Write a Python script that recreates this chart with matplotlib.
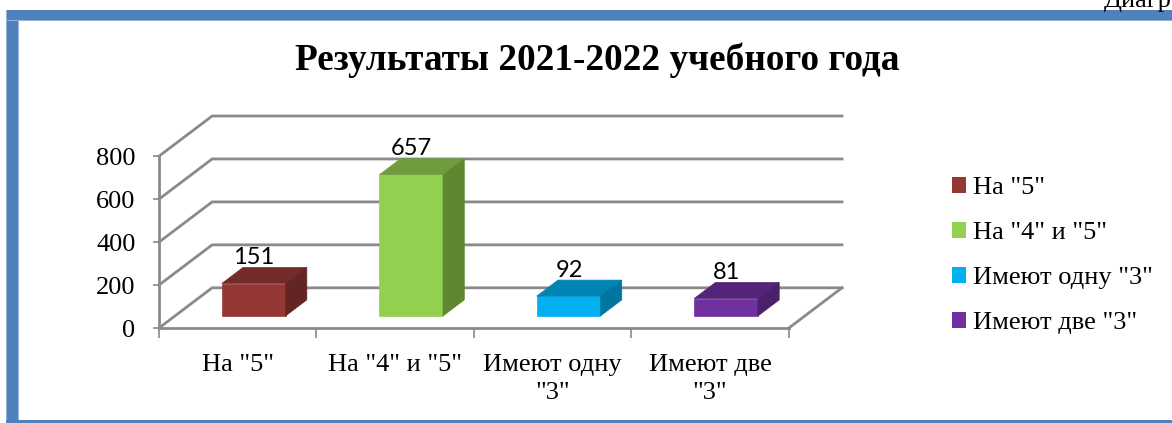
import matplotlib
matplotlib.use('Agg')
import matplotlib.pyplot as plt
from matplotlib.patches import Rectangle, Patch

plt.rcParams['font.family'] = ['Liberation Serif', 'DejaVu Serif']

# data
categories = ['На "5"', 'На "4" и "5"', 'Имеют одну\n"3"', 'Имеют две\n"3"']
legend_labels = ['На "5"', 'На "4" и "5"', 'Имеют одну "3"', 'Имеют две "3"']
values = [151, 657, 92, 81]
y_ticks = [0, 200, 400, 600, 800]

# front, top and side colours of each bar
front_colors = ['#953735', '#92D050', '#00B0F0', '#7030A0']
top_colors = ['#742C2A', '#6F9C3D', '#0084B4', '#542478']
side_colors = ['#632523', '#5F8730', '#00759F', '#4A206A']

W, H = 1172, 423
grid_color = '#8A8A8A'

# shift of the back wall in data units, this fakes the 3d look
depth_x = 53 / 157
depth_y = 40 / (171 / 800)


def project(x, y, d):
    return x + d * depth_x, y + d * depth_y


fig = plt.figure(figsize=(W / 100, H / 100), dpi=100, facecolor='white')

# blue frame round the chart
for px, py, pw, ph, col in [(6, 10, 13, 413, '#95B3D7'), (7, 10, 11, 413, '#4F81BD'),
                            (6, 10, 1166, 11, '#95B3D7'), (7, 10, 1165, 10, '#4F81BD'),
                            (6, 420, 1166, 3, '#4F81BD')]:
    fig.add_artist(Rectangle((px / W, 1 - (py + ph) / H), pw / W, ph / H,
                             transform=fig.transFigure, facecolor=col, edgecolor='none'))

fig.text(1104 / W, 1 - 7 / H, 'Диагр', fontsize=19, va='baseline', ha='left', color='black')
fig.text(597 / W, 1 - 60 / H, 'Результаты 2021-2022 учебного года', fontsize=26.8,
         fontweight='bold', ha='center', va='center')

ax = fig.add_axes([159 / W, 1 - 328 / H, (842 - 159) / W, (328 - 116) / H])
ax.set_xlim(0, 4 + depth_x)
ax.set_ylim(0, 800 + depth_y)
ax.patch.set_alpha(0)

for s in ['top', 'right']:
    ax.spines[s].set_visible(False)
for s in ['left', 'bottom']:
    ax.spines[s].set_color(grid_color)
    ax.spines[s].set_linewidth(2)
ax.spines['left'].set_bounds(0, 800)
ax.spines['bottom'].set_bounds(0, 4)

ax.set_yticks(y_ticks)
ax.set_xticks(range(5))
ax.set_xticklabels([])
ax.set_xticks([i + 0.5 for i in range(4)], minor=True)
ax.set_xticklabels(categories, minor=True, fontsize=19, linespacing=1.32)
ax.tick_params(axis='y', labelsize=19, length=4, width=1.2, color=grid_color, pad=13)
ax.tick_params(axis='x', which='major', length=7, width=1.2, color=grid_color)
ax.tick_params(axis='x', which='minor', length=0, pad=19)

# side wall and back wall gridlines
for v in y_ticks:
    bx, by = project(0, v, 1)
    ex, ey = project(4, v, 1)
    ax.plot([0, bx, ex], [v, by, ey], color=grid_color, lw=2, clip_on=False,
            solid_joinstyle='miter', zorder=1)
fx, fy = project(4, 0, 1)
ax.plot([4, fx], [0, fy], color=grid_color, lw=2, clip_on=False, zorder=1)

# bars, each one is three polygons
bar_w = 0.405
for i, v in enumerate(values):
    x0 = i + 0.5 - bar_w / 2
    x1 = i + 0.5 + bar_w / 2
    d0, d1 = 0.3, 0.7
    a = project(x0, 0, d0)
    b = project(x1, 0, d0)
    c = project(x1, v, d0)
    e = project(x0, v, d0)
    f = project(x0, v, d1)
    g = project(x1, v, d1)
    h = project(x1, 0, d1)
    ax.fill(*zip(a, b, c, e), color=front_colors[i], lw=0.5, zorder=3, clip_on=False)
    ax.fill(*zip(e, c, g, f), color=top_colors[i], lw=0.5, zorder=3, clip_on=False)
    ax.fill(*zip(b, h, g, c), color=side_colors[i], lw=0.5, zorder=3, clip_on=False)
    lx, ly = project(i + 0.5, v, d1)
    ax.annotate(str(v), (lx, ly), xytext=(-15, -0.5), textcoords='offset points', ha='center',
                va='bottom', fontsize=17, family=['Lato', 'DejaVu Sans'], zorder=4,
                annotation_clip=False)

handles = [Patch(facecolor=c, edgecolor='none') for c in front_colors]
fig.legend(handles, legend_labels, loc='upper left', bbox_to_anchor=(952 / W, 1 - 177 / H),
           frameon=False, fontsize=19, handlelength=0.53, handleheight=0.53, handletextpad=0.25,
           labelspacing=0.87, borderpad=0, borderaxespad=0)

fig.savefig('out.png', dpi=100)
